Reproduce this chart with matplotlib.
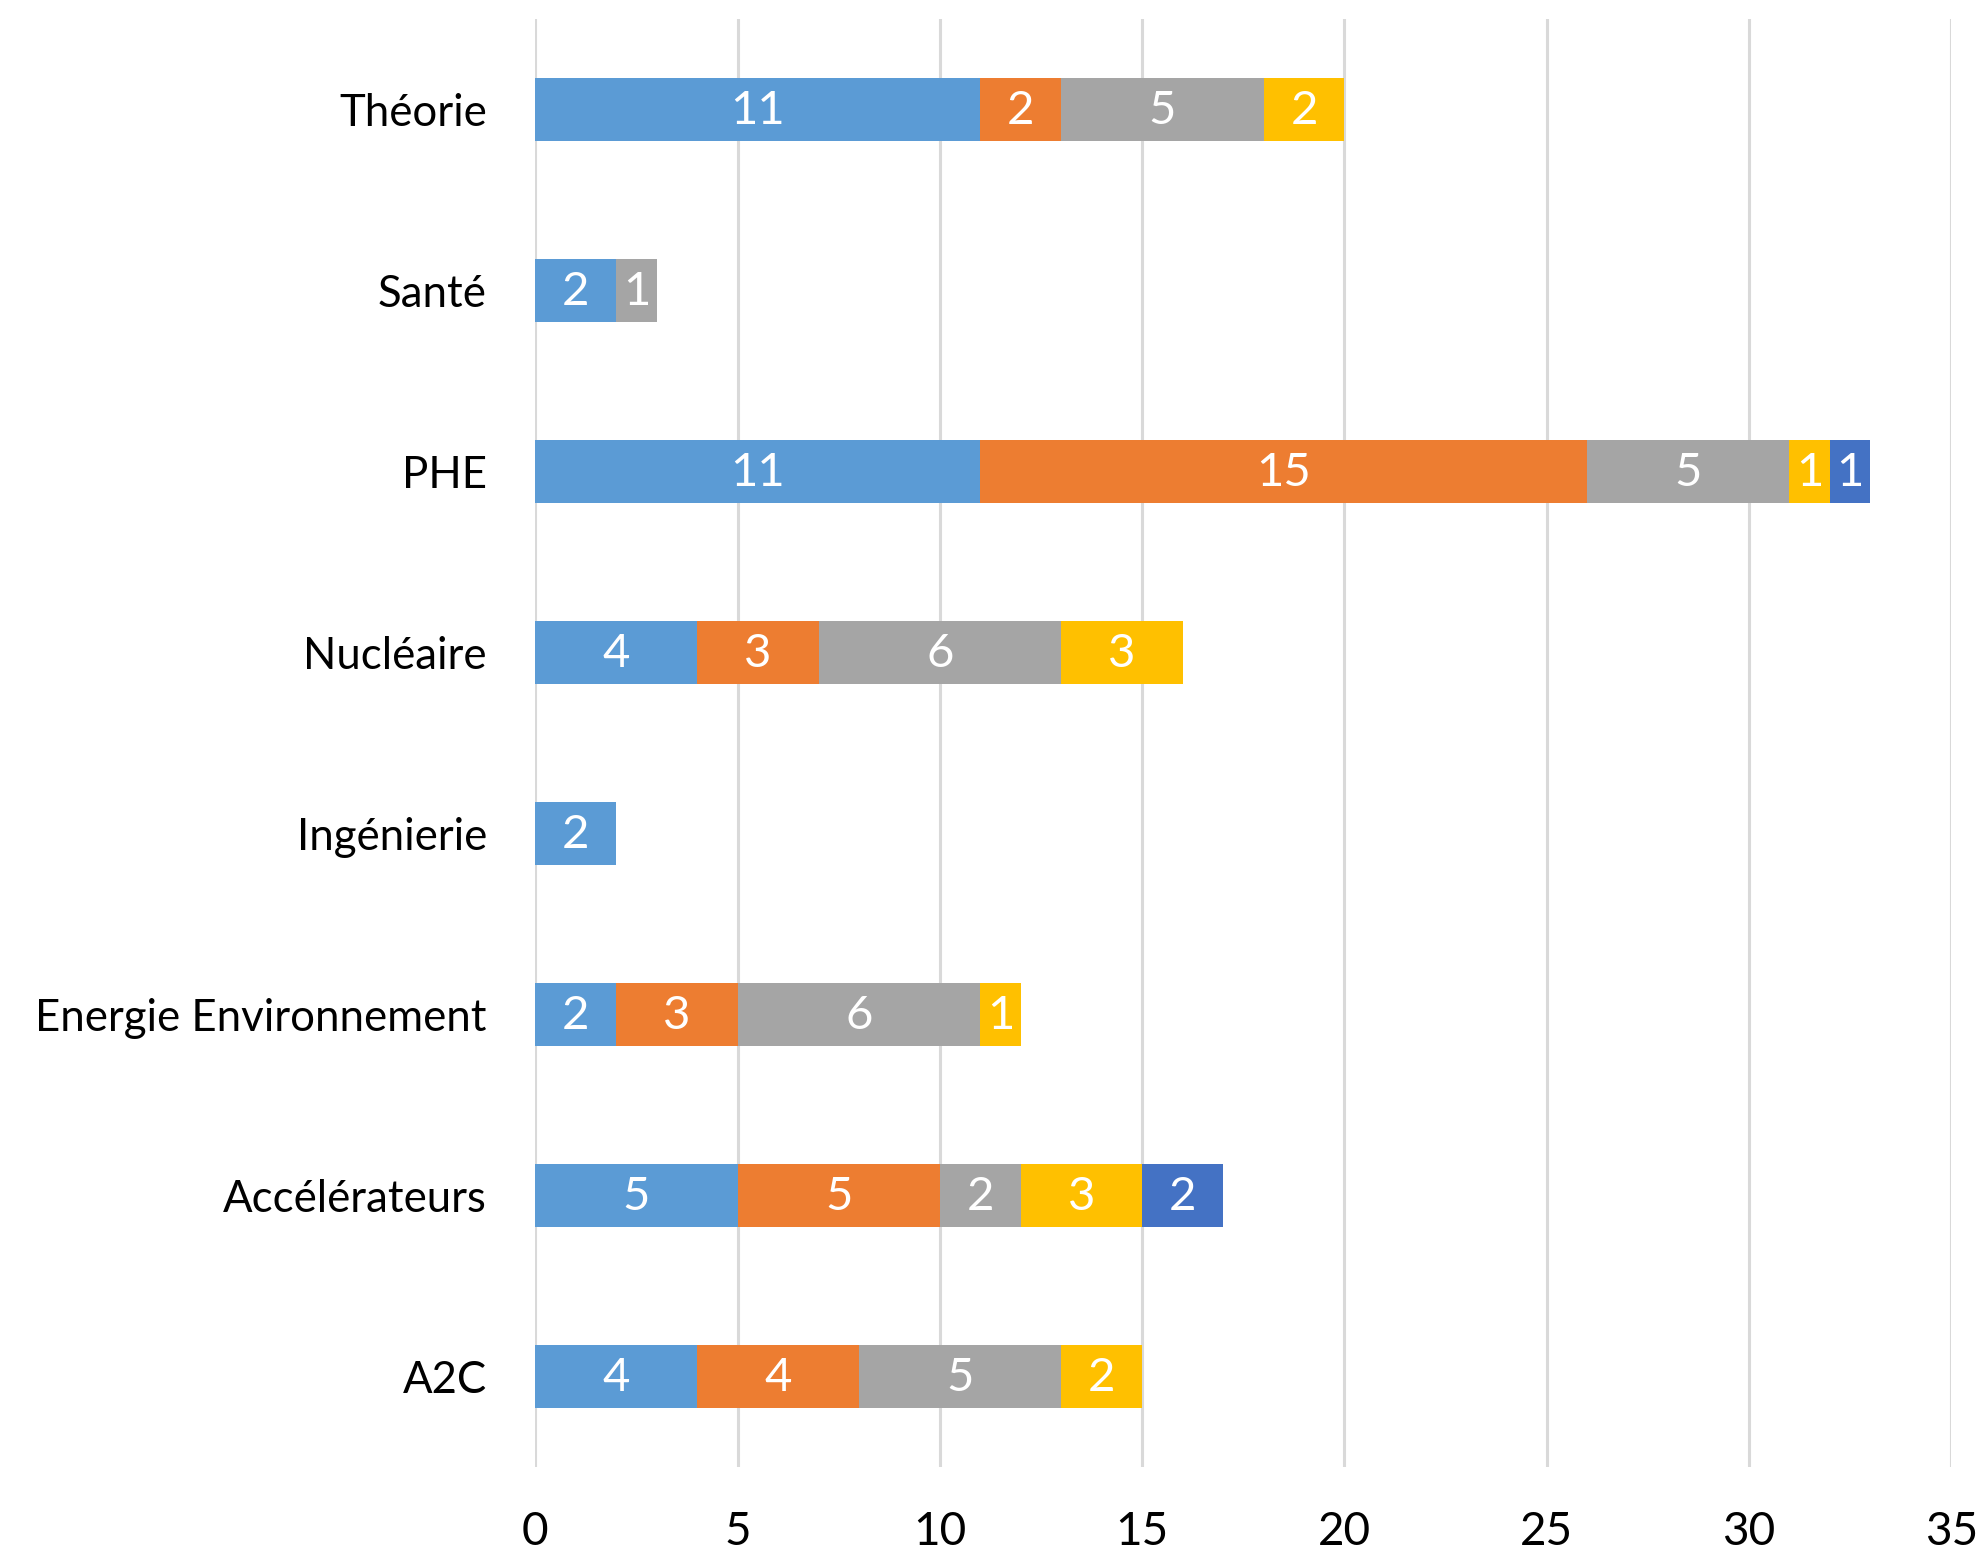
import numpy as np
import matplotlib
matplotlib.use("Agg")
import matplotlib.pyplot as plt

# categories listed bottom to top
categories = ["A2C", "Accélérateurs", "Energie Environnement", "Ingénierie",
              "Nucléaire", "PHE", "Santé", "Théorie"]
s1 = [4, 5, 2, 2, 4, 11, 2, 11]
s2 = [4, 5, 3, 0, 3, 15, 0, 2]
s3 = [5, 2, 6, 0, 6, 5, 1, 5]
s4 = [2, 3, 1, 0, 3, 1, 0, 2]
s5 = [0, 2, 0, 0, 0, 1, 0, 0]
series = [s1, s2, s3, s4, s5]
colors = ["#5B9BD5", "#ED7D31", "#A5A5A5", "#FFC000", "#4472C4"]

plt.rcParams["font.family"] = ["Lato", "DejaVu Sans"]
FS = 33

fig = plt.figure(figsize=(19.83, 15.53), dpi=100)
ax = fig.add_axes([0.270, 0.0554, 0.714, 0.9324])

y = np.arange(len(categories))
left = np.zeros(len(categories))
for vals, c in zip(series, colors):
    vals = np.array(vals, dtype=float)
    ax.barh(y, vals, left=left, height=0.35, color=c, zorder=3)
    for yi, (l, v) in enumerate(zip(left, vals)):
        if v > 0:
            ax.text(l + v / 2, yi - 0.01, f"{int(v)}", ha="center", va="center",
                    color="white", fontsize=FS + 1, zorder=4)
    left += vals

ax.set_xlim(0, 35)
ax.set_ylim(-0.5, 7.5)
ax.set_xticks(range(0, 36, 5))
ax.set_yticks(y)
ax.set_yticklabels(categories)
ax.tick_params(axis="both", length=0)
ax.tick_params(axis="x", pad=32, labelsize=FS)
ax.tick_params(axis="y", pad=35, labelsize=FS - 1.5)
ax.grid(axis="x", color="#D9D9D9", lw=2.2, zorder=0)
for s in ax.spines.values():
    s.set_visible(False)

plt.savefig("out.png", dpi=100)
